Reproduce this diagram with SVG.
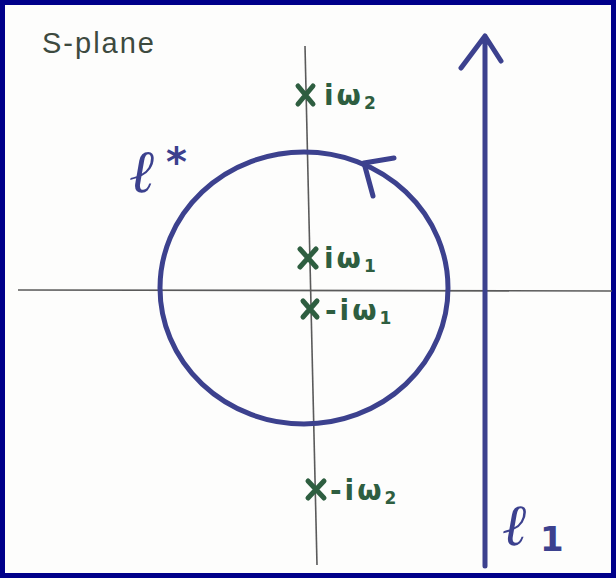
<svg xmlns="http://www.w3.org/2000/svg" width="616" height="578" viewBox="0 0 616 578">
<style>
.axis{stroke:#5a5a5a;stroke-width:1.6;fill:none}
.blue{stroke:#3c418e;stroke-width:5;fill:none;stroke-linecap:round;stroke-linejoin:round}
.cross{stroke:#2e5e40;stroke-width:5;stroke-linecap:round}
.lbl{font-family:"DejaVu Sans",sans-serif;font-weight:bold;fill:#2e5e40;font-size:28px;letter-spacing:3px}
.sub{font-size:17px}
.script{font-family:"DejaVu Serif",serif;font-style:italic;font-weight:bold;fill:#3c418e}
.up{font-family:"DejaVu Sans",sans-serif;font-weight:bold;fill:#3c418e}
</style>
<rect x="0" y="0" width="616" height="578" fill="#00008a"/>
<rect x="5" y="5" width="606" height="568" fill="#fdfdfc"/>
<g id="connectors">
<line class="axis" x1="18" y1="290" x2="612" y2="291"/>
<line class="axis" x1="305" y1="46" x2="317" y2="565"/>
</g>
<text x="42" y="53" font-family="Liberation Sans,sans-serif" font-size="29" letter-spacing="2" fill="#3d4a3f">S-plane</text>
<g id="contour-star">
<ellipse class="blue" cx="304" cy="288" rx="144" ry="136"/>
<path class="blue" d="M394 158 L364 163 L373 196"/>
<text class="script" x="130" y="192" font-size="60">ℓ</text>
<text class="up" x="166" y="176" font-size="40">*</text>
</g>
<g id="contour-one">
<path class="blue" d="M485 566 L485 36 M461 68 L485 36 L501 61"/>
<text class="script" x="503" y="545" font-size="58">ℓ</text>
<text class="up" x="540" y="551" font-size="34">1</text>
</g>
<g id="pole-iw2">
<path class="cross" d="M298 86 L313 104 M313 86 L298 104"/>
<text class="lbl" x="324" y="105">iω<tspan class="sub" dy="4">2</tspan></text>
</g>
<g id="pole-iw1">
<path class="cross" d="M300 249 L316 267 M316 249 L300 267"/>
<text class="lbl" x="324" y="268">iω<tspan class="sub" dy="4">1</tspan></text>
</g>
<g id="pole-miw1">
<path class="cross" d="M303 301 L317 317 M317 301 L303 317"/>
<text class="lbl" x="325" y="320">-iω<tspan class="sub" dy="4">1</tspan></text>
</g>
<g id="pole-miw2">
<path class="cross" d="M308 481 L324 498 M324 481 L308 498"/>
<text class="lbl" x="330" y="500">-iω<tspan class="sub" dy="4">2</tspan></text>
</g>
</svg>
